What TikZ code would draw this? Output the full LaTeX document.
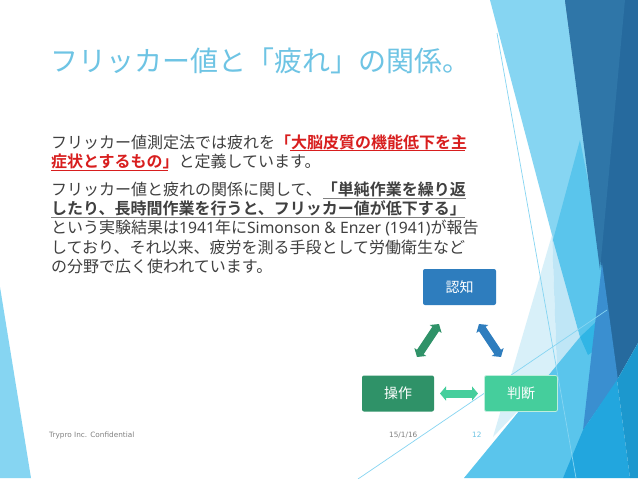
\documentclass[tikz,border=0pt]{standalone}
\usepackage{fontspec}
\setmainfont{Noto Sans CJK JP}[BoldFont={Noto Sans CJK JP Bold}]
\newfontfamily\latinf{DejaVu Sans}
\newfontfamily\latinb{Noto Sans}
\usetikzlibrary{arrows.meta}
\definecolor{ttl}{HTML}{6EC4E4}
\definecolor{bodyc}{HTML}{404040}
\definecolor{redt}{HTML}{D81E1E}
\definecolor{cblue}{HTML}{2E7DBE}
\definecolor{cgreen}{HTML}{2F9268}
\definecolor{cmint}{HTML}{45CE9C}
\definecolor{ltb}{HTML}{86D5F2}
\definecolor{midb}{HTML}{5AC5EC}
\definecolor{deepb}{HTML}{22A6DE}
\definecolor{deepc}{HTML}{1C98CE}
\definecolor{brightb}{HTML}{30B5E5}
\definecolor{medb}{HTML}{3A8FD0}
\definecolor{dark}{HTML}{266A9E}
\definecolor{darkb}{HTML}{2F76A8}
\definecolor{pale}{HTML}{BFE6F6}
\definecolor{paler}{HTML}{D8F0F9}
\tikzset{
 px/.style={x=1pt,y=-1pt},
 box/.style={rounded corners=2pt,minimum width=73pt,minimum height=36pt,inner sep=0pt,text=white,font=\fontsize{14}{14}\selectfont},
 dblarrow/.style={line width=8pt,{Triangle[width=14pt,length=6pt]}-{Triangle[width=14pt,length=6pt]}},
 bodyt/.style={anchor=base west,inner sep=0pt,text=bodyc,font=\fontsize{16}{16}\selectfont},
 foot/.style={anchor=base west,inner sep=0pt,text=gray,font=\latinf\fontsize{7.3}{7.3}\selectfont},
 deco/.style={line width=.7pt,draw=ltb},
}
\begin{document}
\begin{tikzpicture}[px]
\useasboundingbox (0,0) rectangle (638,479);
\fill[white] (0,0) rectangle (638,479);
% right decoration
\fill[ltb] (490,0) -- (565,0) -- (601,270) -- (580,337) -- (552,235) -- cycle;
\fill[paler] (552,235) -- (557,370) -- (493,437) -- cycle;
\fill[pale] (552,235) -- (580,337) -- (557,370) -- cycle;
\fill[midb] (580,140) -- (604,262) -- (598,325) -- (580,337) -- (553,240) -- cycle;
\fill[midb] (464,478) -- (580,337) -- (598,320) -- (596,350) -- (587,430) -- (563,478) -- cycle;
\fill[brightb] (580,337) -- (596,322) -- (595,350) -- (588,355) -- cycle;
\fill[dark] (565,0) -- (638,0) -- (638,343) -- (617,380) -- cycle;
\fill[darkb] (565,0) -- (625,0) -- (600,270) -- cycle;
\fill[medb] (602,263) -- (618,380) -- (583,430) -- (592,350) -- (599,290) -- cycle;
\fill[deepb] (617,380) -- (630,478) -- (563,478) -- (583,430) -- cycle;
\fill[deepc] (617,380) -- (638,343) -- (638,478) -- (630,478) -- cycle;
\draw[deco] (497,33) -- (576,478);
\draw[deco] (358,479) -- (607,310);
% left decoration
\fill[ltb] (0,287) -- (31,478) -- (0,478) -- cycle;
% title
\node[anchor=base west,inner sep=0pt,text=ttl,font=\fontsize{28}{28}\selectfont] (title) at (50,71) {フリッカー値と「疲れ」の関係。};
% body
\node[bodyt] (l1) at (51,148) {フリッカー値測定法では疲れを\textcolor{redt}{\bfseries 「大脳皮質の機能低下を主}};
\node[bodyt] (l2) at (51,167) {\textcolor{redt}{\bfseries 症状とするもの」}と定義しています。};
\node[bodyt] (l3) at (51,195) {フリッカー値と疲れの関係に関して、{\bfseries 「単純作業を繰り返}};
\node[bodyt] (l4) at (51,214) {{\bfseries したり、長時間作業を行うと、フリッカー値が低下する」}};
\node[bodyt] (l5) at (51,233) {という実験結果は{\latinb\fontsize{15.7}{16}\selectfont 1941}年に{\latinb\fontsize{15.7}{16}\selectfont Simonson \& Enzer (1941)}が報告};
\node[bodyt] (l6) at (51,253) {しており、それ以来、疲労を測る手段として労働衛生など};
\node[bodyt] (l7) at (51,272) {の分野で広く使われています。};
% underlines
\draw[redt,line width=1pt] (290,150.5) -- (465,150.5);
\draw[redt,line width=1pt] (51,170) -- (168,170);
\draw[gray,line width=1pt] (323,198) -- (466,198);
\draw[gray,line width=1pt] (51,217) -- (465,217);
% cycle
\node[box,fill=cblue] (a) at (459.5,287) {認知};
\node[box,fill=cmint,draw=white!65!cmint,line width=.8pt] (b) at (521,393.5) {判断};
\node[box,fill=cgreen,minimum width=72pt] (c) at (398,393.5) {操作};
\coordinate (ca1) at (417,357); \coordinate (ca2) at (439,324);
\coordinate (ab1) at (479,324); \coordinate (ab2) at (501,357);
\coordinate (cb1) at (440,393.5); \coordinate (cb2) at (478,393.5);
\draw[dblarrow,draw=cgreen,fill=cgreen] (ca1) -- (ca2);
\draw[dblarrow,draw=cblue,fill=cblue] (ab1) -- (ab2);
\draw[dblarrow,draw=cmint,fill=cmint] (cb1) -- (cb2);
% footer
\node[foot] (f1) at (49,437) {Trypro Inc. Confidential};
\node[foot] (f2) at (389,437) {15/1/16};
\node[foot,text=ttl] (f3) at (472,437) {12};
\end{tikzpicture}
\end{document}
